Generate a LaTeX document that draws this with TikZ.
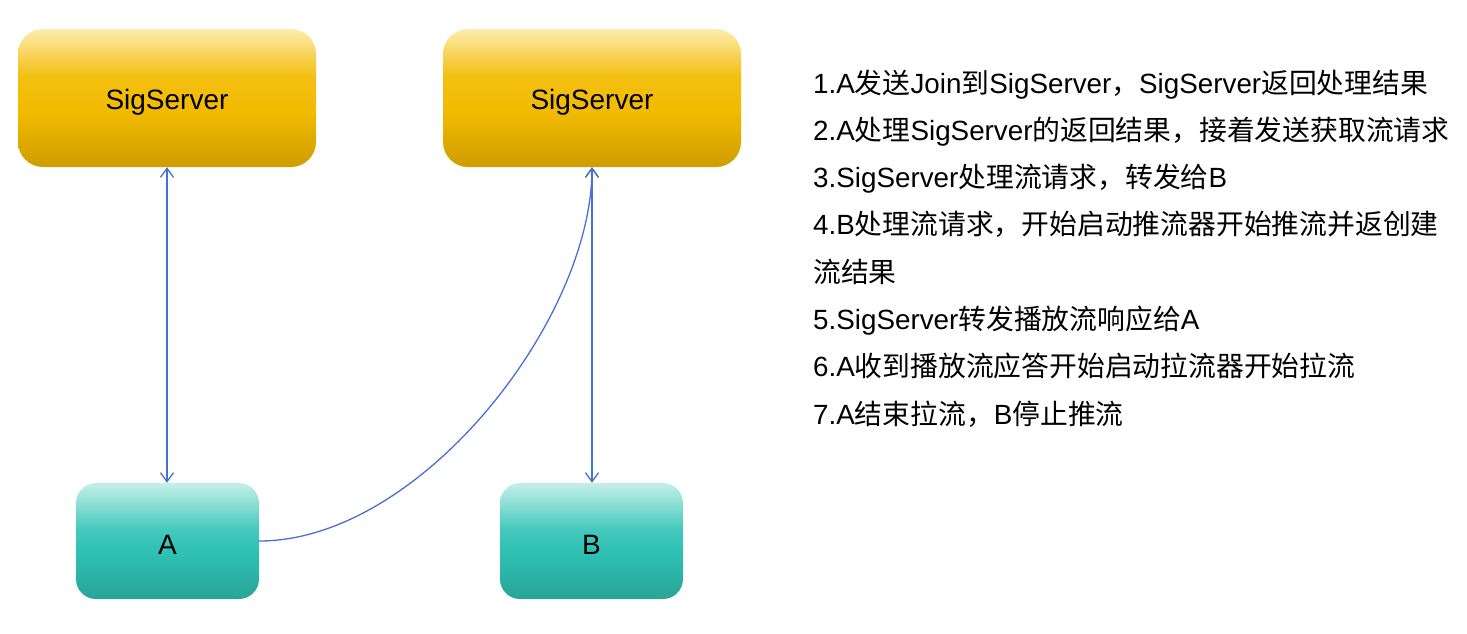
\documentclass[tikz,border=0pt]{standalone}
\usepackage{fontspec}
\setmainfont{Liberation Sans}
\newfontfamily\cjk{Noto Sans CJK SC}
\newcommand\zhs[1]{{\cjk #1}}
\newcommand\lowr[1]{\raisebox{-4pt}[\height][\depth]{#1}}
\usetikzlibrary{arrows.meta}
\definecolor{yTop}{RGB}{253,236,175}
\definecolor{yMid}{RGB}{242,186,0}
\definecolor{yBot}{RGB}{206,157,0}
\definecolor{tTop}{RGB}{196,240,233}
\definecolor{tMid}{RGB}{46,193,180}
\definecolor{tBot}{RGB}{40,164,150}
\definecolor{lnBlue}{RGB}{72,112,210}
\pgfdeclareverticalshading{ygrad}{100bp}{color(0bp)=(yBot); color(25bp)=(yBot); color(45bp)=(yMid); color(58bp)=(yMid!90!yTop); color(75bp)=(yTop); color(100bp)=(yTop)}
\pgfdeclareverticalshading{tgrad}{100bp}{color(0bp)=(tBot); color(25bp)=(tBot); color(45bp)=(tMid); color(55bp)=(tMid!85!tTop); color(75bp)=(tTop); color(100bp)=(tTop)}
\tikzset{
  serverbox/.style={rounded corners=25pt, minimum width=298pt, minimum height=138pt, inner sep=0pt,
    shading=ygrad, font=\fontsize{28}{32}\selectfont},
  peerbox/.style={rounded corners=20pt, minimum width=183pt, minimum height=116pt, inner sep=0pt,
    shading=tgrad, font=\fontsize{28}{32}\selectfont},
  conn/.style={draw=lnBlue, line width=1.3pt},
  stepline/.style={anchor=base west, inner sep=0pt, font=\fontsize{27.8}{33}\selectfont}
}
\begin{document}
\begin{tikzpicture}[x=1pt,y=-1pt]
\useasboundingbox (0,0) rectangle (1467,633);
\node[serverbox] (s1) at (167,98) {\lowr{SigServer}};
\node[serverbox] (s2) at (592,98) {\lowr{SigServer}};
\node[peerbox] (a) at (167.5,541) {\lowr{A}};
\node[peerbox] (b) at (591.5,541) {\lowr{B}};
\draw[conn, {Straight Barb[length=9pt,width=13pt]}-{Straight Barb[length=9pt,width=13pt]}] (s1.south) -- (s1.south |- a.north);
\draw[conn, {Straight Barb[length=9pt,width=13pt]}-{Straight Barb[length=9pt,width=13pt]}] (s2.south) -- (s2.south |- b.north);
\draw[conn, -{Straight Barb[length=9pt,width=13pt]}] (a.east) .. controls (420,541) and (592,320) .. (s2.south);
\node[stepline] (t1) at (813,93) {1.A\zhs{发送}Join\zhs{到}SigServer\zhs{，}SigServer\zhs{返回处理结果}};
\node[stepline] (t2) at (813,140.3) {2.A\zhs{处理}SigServer\zhs{的返回结果，接着发送获取流请求}};
\node[stepline] (t3) at (813,187.6) {3.SigServer\zhs{处理流请求，转发给}B};
\node[stepline] (t4) at (813,234.9) {4.B\zhs{处理流请求，开始启动推流器开始推流并返创建}};
\node[stepline] (t5) at (813,282.2) {\zhs{流结果}};
\node[stepline] (t6) at (813,329.5) {5.SigServer\zhs{转发播放流响应给}A};
\node[stepline] (t7) at (813,376.8) {6.A\zhs{收到播放流应答开始启动拉流器开始拉流}};
\node[stepline] (t8) at (813,424.1) {7.A\zhs{结束拉流，}B\zhs{停止推流}};
\end{tikzpicture}
\end{document}
